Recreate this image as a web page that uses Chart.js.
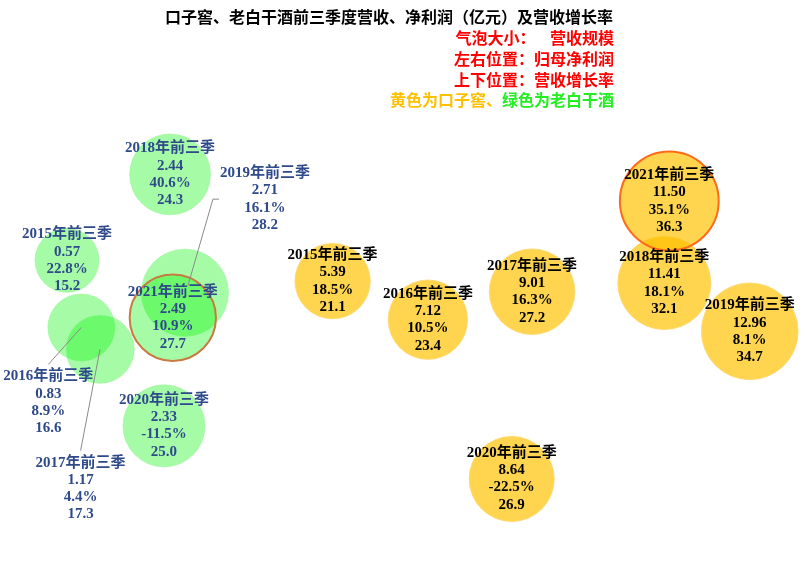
<!DOCTYPE html>
<html>
<head>
<meta charset="utf-8">
<script src="https://cdn.jsdelivr.net/npm/chart.js@4.4.1/dist/chart.umd.min.js"></script>
<style>
  html, body { margin: 0; padding: 0; background: #ffffff; }
  #wrap { position: relative; width: 812px; height: 563px; overflow: hidden; background: #fff; }
  #c { position: absolute; left: 0; top: 0; }
  .t { position: absolute; font-family: "Noto Sans CJK SC", sans-serif; font-weight: bold; font-size: 16px;
       line-height: 20px; height: 20px; white-space: pre; }
  #title { left: 0; width: 778px; text-align: center; top: 6px; color: #000; }
  .r { right: 198px; text-align: right; color: #ff0000; }
</style>
</head>
<body>
<div id="wrap">
  <canvas id="c" width="812" height="563"></canvas>
  <div class="t" id="title">口子窖、老白干酒前三季度营收、净利润（亿元）及营收增长率</div>
  <div class="t r" style="top:27px;">气泡大小：    营收规模</div>
  <div class="t r" style="top:48px;">左右位置：归母净利润</div>
  <div class="t r" style="top:69px;">上下位置：营收增长率</div>
  <div class="t r" style="top:89px;"><span style="color:#ffc000">黄色为口子窖、</span><span style="color:#22ee22">绿色为老白干酒</span></div>
</div>
<script>
// ---- data ----
const periods = ['2015年前三季', '2016年前三季', '2017年前三季', '2018年前三季', '2019年前三季', '2020年前三季', '2021年前三季'];
// 口子窖
const kzjProfit  = [5.39, 7.12, 9.01, 11.41, 12.96, 8.64, 11.50];
const kzjGrowth  = [18.5, 10.5, 16.3, 18.1, 8.1, -22.5, 35.1];
const kzjRevenue = [21.1, 23.4, 27.2, 32.1, 34.7, 26.9, 36.3];
// 老白干酒
const lbgProfit  = [0.57, 0.83, 1.17, 2.44, 2.71, 2.33, 2.49];
const lbgGrowth  = [22.8, 8.9, 4.4, 40.6, 16.1, -11.5, 10.9];
const lbgRevenue = [15.2, 16.6, 17.3, 24.3, 28.2, 25.0, 27.7];

const highlightPeriod = '2021年前三季';

// ---- presentation ----
const RADIUS_K = 8.2;
function toPoints(profit, growth, revenue) {
  return periods.map((p, i) => ({ x: profit[i], y: growth[i], r: RADIUS_K * Math.sqrt(revenue[i]), rev: revenue[i] }));
}

// label displacement (layout only) for crowded green bubbles
const lbgLabelLayout = {
  '2016年前三季': { dx: -33, dy: 75, leader: 'top' },
  '2017年前三季': { dx: -19.5, dy: 139.5, leader: 'top' },
  '2019年前三季': { dx: 80, dy: -93.5, leader: 'left' }
};

const LINE_H = 17.3;
const LABEL_FONT = 'bold 15px "Liberation Serif", "Noto Sans CJK SC", serif';

const labelPlugin = {
  id: 'bubbleLabels',
  afterDatasetsDraw(chart) {
    const ctx = chart.ctx;
    ctx.save();
    ctx.font = LABEL_FONT;
    ctx.textAlign = 'center';
    ctx.textBaseline = 'middle';
    chart.data.datasets.forEach((ds, di) => {
      const meta = chart.getDatasetMeta(di);
      meta.data.forEach((el, i) => {
        const d = ds.data[i];
        const lines = [periods[i], d.x.toFixed(2), d.y.toFixed(1) + '%', d.rev.toFixed(1)];
        const lay = (ds.labelLayout && ds.labelLayout[periods[i]]) || null;
        const cx = el.x, cy = el.y;
        const lx = cx + (lay ? lay.dx : 0);
        const ly = cy + (lay ? lay.dy : 0);
        if (lay) {
          ctx.strokeStyle = '#8a8a8a';
          ctx.lineWidth = 1;
          ctx.beginPath();
          if (lay.leader === 'top') {
            ctx.moveTo(lx, ly - 38);
            ctx.lineTo(cx, cy);
          } else {
            const w = ctx.measureText(lines[0]).width;
            const sx = lx - w / 2 - 1;
            ctx.moveTo(sx, ly);
            ctx.lineTo(sx - 6, ly);
            ctx.lineTo(cx + 3, cy - 7);
          }
          ctx.stroke();
        }
        ctx.fillStyle = ds.labelColor;
        lines.forEach((t, k) => {
          ctx.fillText(t, lx, ly + (k - 1.5) * LINE_H);
        });
      });
    });
    ctx.restore();
  }
};

const chart = new Chart(document.getElementById('c'), {
  type: 'bubble',
  data: {
    datasets: [
      {
        label: '口子窖',
        data: toPoints(kzjProfit, kzjGrowth, kzjRevenue),
        backgroundColor: 'rgba(255,193,0,0.69)',
        borderColor: (c) => periods[c.dataIndex] === highlightPeriod ? '#ff6a1a' : 'rgba(255,215,110,0.9)',
        borderWidth: (c) => periods[c.dataIndex] === highlightPeriod ? 2 : 1,
        labelColor: '#000000',
        labelLayout: {},
        clip: false
      },
      {
        label: '老白干酒',
        data: toPoints(lbgProfit, lbgGrowth, lbgRevenue),
        backgroundColor: 'rgba(0,245,0,0.35)',
        borderColor: (c) => periods[c.dataIndex] === highlightPeriod ? '#c87a40' : 'rgba(150,245,150,0.6)',
        borderWidth: (c) => periods[c.dataIndex] === highlightPeriod ? 2 : 1,
        labelColor: '#2e4a8b',
        labelLayout: lbgLabelLayout,
        clip: false
      }
    ]
  },
  options: {
    responsive: false,
    maintainAspectRatio: false,
    animation: false,
    devicePixelRatio: 1,
    layout: { padding: 0, autoPadding: false },
    events: [],
    plugins: { legend: { display: false }, tooltip: { enabled: false }, title: { display: false } },
    scales: {
      x: { type: 'linear', display: false, min: -0.646, max: 14.09 },
      y: { type: 'linear', display: false, min: -39.92, max: 76.75 }
    }
  },
  plugins: [labelPlugin]
});
</script>
</body>
</html>
